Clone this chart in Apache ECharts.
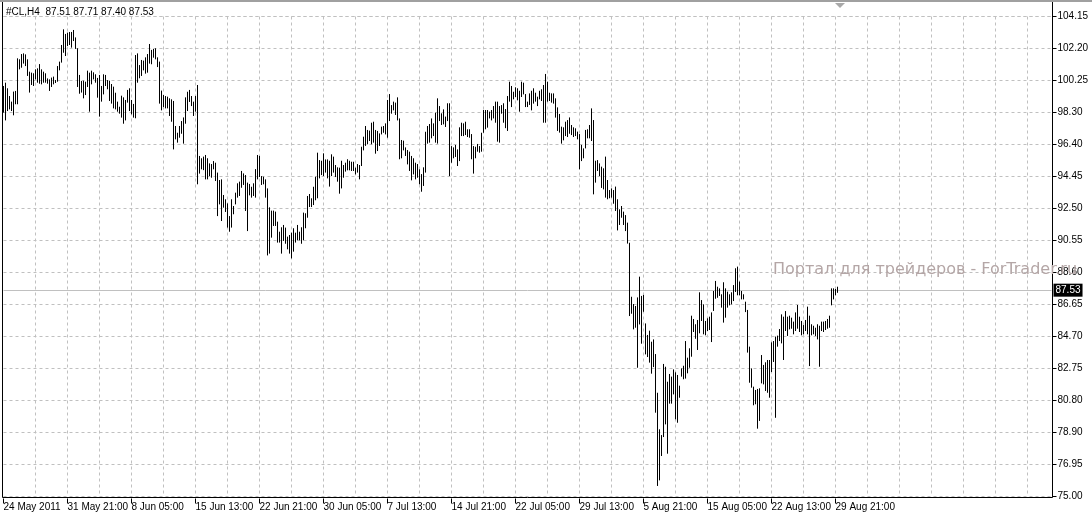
<!DOCTYPE html>
<html>
<head>
<meta charset="utf-8">
<script src="https://cdn.jsdelivr.net/npm/echarts/dist/echarts.min.js"></script>
<style>
html,body{margin:0;padding:0;background:#fff;}
#chart{width:1092px;height:518px;}
</style>
</head>
<body>
<div id="chart"></div>
<script>
// ---- data ----
const symbolTitle = '#CL,H4';
const lastBarOHLC = [87.51, 87.71, 87.40, 87.53];
const xTickLabels = ['24 May 2011','31 May 21:00','8 Jun 05:00','15 Jun 13:00','22 Jun 21:00','30 Jun 05:00','7 Jul 13:00','14 Jul 21:00','22 Jul 05:00','29 Jul 13:00','5 Aug 21:00','15 Aug 05:00','22 Aug 13:00','29 Aug 21:00'];
const yTickLabels = ['75.00','76.95','78.90','80.80','82.75','84.70','86.65','88.60','90.55','92.50','94.45','96.40','98.30','100.25','102.20','104.15'];
const watermark = 'Портал для трейдеров - ForTrader.ru';

const highs = [
99.90,100.10,99.76,99.29,98.95,99.56,99.60,101.58,101.52,101.84,
101.88,101.82,101.52,100.77,100.71,100.67,100.91,100.97,101.23,100.91,
100.77,100.67,100.36,100.30,100.41,100.47,100.26,101.11,101.38,102.39,
103.34,103.06,103.14,103.18,103.18,103.30,102.85,102.19,100.57,100.20,
100.22,100.16,100.83,100.71,100.83,100.73,100.61,100.39,100.57,99.90,
100.61,100.57,100.26,100.22,100.02,99.86,99.49,98.95,98.64,99.31,
99.21,99.05,99.66,99.76,99.05,98.81,101.78,101.88,101.17,101.48,
101.44,101.64,101.84,102.45,102.09,102.15,102.19,101.64,101.38,99.62,
99.35,99.29,99.25,99.15,
99.09,98.99,97.47,97.06,97.47,97.77,97.99,99.21,99.55,99.66,
99.29,98.95,99.29,99.96,95.65,95.51,95.61,95.71,95.51,95.20,
95.16,95.34,95.24,94.64,94.19,94.23,93.28,93.02,92.77,92.00,
93.02,92.61,93.42,93.99,94.09,94.74,94.59,94.49,94.03,93.95,
93.78,93.99,94.85,95.71,95.65,94.43,94.39,94.23,93.68,92.53,
92.33,92.33,92.27,91.66,91.05,91.32,91.46,91.30,90.75,90.85,
90.99,91.26,90.99,91.46,91.05,91.32,92.21,92.17,93.22,93.34,
93.08,93.78,94.39,95.85,95.40,95.36,95.81,95.44,95.44,95.36,
95.75,95.61,95.10,94.96,
94.94,95.36,95.10,95.24,95.45,95.36,95.30,95.30,94.94,95.16,
95.10,96.21,96.82,97.47,97.23,97.19,97.67,97.73,97.23,97.17,
97.02,97.43,97.47,97.63,99.05,99.41,98.74,98.95,98.89,99.21,
97.93,96.62,96.58,96.17,96.01,95.91,95.65,95.51,95.24,95.16,
94.84,94.55,94.96,97.12,97.47,97.59,97.93,97.63,98.28,99.15,
98.68,98.24,98.48,98.04,98.85,98.85,96.25,96.17,96.32,96.05,
97.39,97.67,97.63,97.73,97.27,97.27,96.98,96.25,96.21,96.38,
96.25,97.06,98.44,98.44,98.44,98.34,98.44,98.68,98.95,98.95,
98.68,98.74,98.85,98.50,
99.29,100.16,99.90,99.55,99.82,99.76,99.61,100.16,100.10,99.41,
98.95,99.45,99.61,99.76,99.49,99.25,99.61,99.70,99.96,100.63,
100.16,99.49,99.45,99.45,99.15,98.60,98.20,97.43,97.39,97.73,
97.83,97.99,97.53,97.39,97.33,97.13,96.98,96.32,96.11,97.23,
97.27,97.53,98.54,97.83,95.36,95.40,95.20,95.00,94.90,95.61,
94.19,93.58,93.68,93.58,93.79,93.02,92.41,92.61,92.27,92.06,
91.60,90.38,87.10,86.66,86.54,87.06,88.32,87.15,87.21,85.48,
84.78,85.04,84.37,84.51,83.62,81.27,79.05,78.70,83.02,82.85,
81.94,82.41,82.25,82.69,
82.51,82.35,81.70,82.75,82.91,84.41,83.40,83.97,85.95,85.75,
85.43,85.69,87.37,86.90,86.64,85.63,85.79,85.89,86.15,87.45,
88.06,87.71,87.61,87.25,87.98,87.61,87.41,87.25,87.37,87.81,
88.83,88.93,88.02,87.45,87.25,86.80,86.30,84.07,82.75,81.64,
81.44,81.50,81.54,83.56,82.96,83.12,83.26,83.26,84.33,84.41,
84.68,84.74,85.14,86.03,85.89,86.23,85.89,85.95,85.83,85.59,
86.15,86.60,85.89,85.63,85.38,85.69,86.50,85.95,85.43,85.34,
85.22,85.43,85.34,85.59,85.59,85.63,85.75,85.95,87.61,87.61,
87.57,87.71
];

const lows = [
98.34,97.87,98.44,98.54,98.44,98.18,98.85,98.85,100.97,101.07,
101.32,101.17,100.57,99.56,100.02,99.96,100.36,100.16,100.10,100.06,
100.16,100.16,100.10,99.66,99.90,100.06,100.14,100.22,100.91,101.38,
101.98,101.78,102.39,102.45,102.29,102.69,102.21,99.90,99.49,99.56,
99.21,99.41,99.90,98.40,100.06,100.36,100.16,99.25,98.10,99.01,
99.45,99.96,99.76,99.05,98.89,98.60,98.54,98.40,98.28,98.04,
97.67,97.87,98.95,98.44,98.24,98.04,98.00,100.16,100.43,100.57,
100.91,100.71,100.77,101.32,101.28,101.68,101.58,101.11,98.89,98.48,
98.68,98.60,98.60,98.14,
97.79,96.11,96.72,96.52,96.82,97.06,96.46,97.67,98.44,98.99,
98.74,98.14,98.40,93.99,94.64,94.90,94.85,94.29,94.29,94.49,
94.39,94.90,94.19,92.06,92.77,91.76,92.57,92.31,91.36,91.11,
91.36,92.17,92.77,93.18,93.28,93.78,93.95,92.37,91.15,93.32,
93.18,93.28,93.18,94.29,94.43,93.95,93.99,93.18,89.67,89.78,
90.75,91.46,91.46,90.45,90.45,89.78,90.55,90.38,90.04,89.78,
89.49,89.90,90.45,90.59,90.59,90.38,90.59,91.32,91.96,92.61,
92.61,92.73,93.02,93.14,94.35,94.55,94.49,94.70,94.35,93.85,
94.49,94.70,94.43,94.15,
93.42,93.74,94.39,94.76,94.84,94.84,94.80,94.80,94.59,94.70,
94.29,95.10,96.05,96.32,96.42,96.62,96.42,96.52,95.85,96.01,
96.32,97.02,97.12,97.02,96.82,97.83,98.28,98.48,98.20,97.87,
95.51,95.57,96.05,95.71,95.20,94.80,94.23,94.59,94.29,94.39,
93.99,93.54,93.89,94.70,96.46,96.52,96.78,96.92,96.52,96.46,
97.83,97.59,97.63,97.47,97.83,94.49,95.30,95.57,95.65,95.10,
95.40,96.92,96.92,96.98,96.86,96.82,95.51,94.64,95.57,95.97,
95.91,95.97,97.12,97.33,97.43,97.99,97.87,97.99,97.73,96.58,
96.52,98.28,97.73,97.40,
97.23,99.01,98.68,99.15,99.29,99.09,98.40,99.29,99.45,98.68,
98.68,98.81,98.48,98.89,99.01,98.74,99.15,99.05,97.73,97.73,
99.01,99.05,98.95,98.89,98.04,97.23,97.13,96.46,96.66,96.92,
96.86,97.06,96.98,96.86,96.92,96.72,94.90,95.40,95.57,96.17,
96.78,96.78,96.62,93.38,94.09,94.80,94.49,93.77,93.68,93.18,
93.08,93.14,93.18,92.81,92.37,91.19,91.52,91.96,91.52,91.15,
90.39,85.99,86.13,85.18,85.28,82.85,85.48,84.31,86.25,83.66,
83.50,83.16,82.49,82.89,80.12,75.67,76.01,77.49,78.64,79.41,
77.63,80.67,80.67,81.23,
79.72,79.51,81.03,82.31,82.15,82.19,82.51,82.85,83.52,85.02,
84.61,83.93,84.94,85.69,84.88,84.82,85.08,85.14,84.41,86.30,
87.04,87.10,87.21,86.50,85.59,85.89,86.50,86.64,86.70,86.90,
87.45,87.25,87.25,87.00,87.00,86.23,83.77,81.94,81.64,80.57,
80.63,79.15,79.62,81.90,81.84,81.44,81.33,81.03,82.59,83.20,
79.81,84.13,84.47,84.33,83.32,85.08,84.78,85.18,85.22,84.88,
85.08,85.22,85.02,84.82,84.88,85.08,84.88,82.95,84.82,84.88,
84.78,84.57,82.91,85.08,85.02,85.14,85.22,85.28,86.64,87.00,
87.25,87.40
];

// ---- axis settings ----
const barsPerLabel = 32;
const barsPerGrid = 16;
const totalSlots = 525;          // bar slots across the chart window (incl. empty right part)
const yMin = 75.00, yMax = 104.15;
const yStep = (yMax - yMin) / (yTickLabels.length - 1);

const categories = Array.from({length: totalSlots}, (_, i) => String(i));
const bars = highs.map((h, i) => [i, lows[i], h]);
const lastIdx = highs.length - 1;

const chart = echarts.init(document.getElementById('chart'), null, {renderer: 'canvas'});
const gridCol = '#c0c0c0';
const font = 'Liberation Sans';

chart.setOption({
  animation: false,
  backgroundColor: '#ffffff',
  grid: {left: 3.5, right: 40.5, top: 16.5, bottom: 21.5, containLabel: false},
  xAxis: {
    type: 'category',
    data: categories,
    boundaryGap: false,
    offset: 2,
    axisLine: {show: false},
    axisTick: {
      show: true, length: 5, lineStyle: {color: '#000'},
      interval: (i) => i % barsPerLabel === 0 && i <= lastIdx
    },
    axisLabel: {
      show: true, align: 'left', margin: 4, color: '#000', fontSize: 10, fontFamily: font,
      interval: (i) => i % barsPerLabel === 0 && i <= lastIdx,
      formatter: (v, i) => xTickLabels[i / barsPerLabel] || ''
    },
    splitLine: {
      show: true,
      interval: (i) => i > 0 && i % barsPerGrid === 0,
      lineStyle: {color: gridCol, type: [3, 3], width: 1}
    }
  },
  yAxis: {
    type: 'value',
    position: 'right',
    min: yMin, max: yMax, interval: yStep,
    offset: 1,
    axisLine: {show: false},
    axisTick: {show: true, length: 4, lineStyle: {color: '#000'}},
    axisLabel: {
      show: true, margin: 5, color: '#000', fontSize: 10, fontFamily: font,
      formatter: (v) => { const k = Math.round((v - yMin) / yStep); return yTickLabels[k] || ''; }
    },
    splitLine: {show: true, lineStyle: {color: gridCol, type: [3, 3], width: 1}}
  },
  series: [
    {
      type: 'custom',
      data: bars,
      encode: {x: 0, y: [1, 2]},
      clip: false,
      silent: true,
      renderItem: (params, api) => {
        const p1 = api.coord([api.value(0), api.value(1)]);
        const p2 = api.coord([api.value(0), api.value(2)]);
        return {
          type: 'line',
          shape: {x1: p1[0], y1: p1[1] + 0.5, x2: p2[0], y2: p2[1] - 0.5},
          style: {stroke: '#000', lineWidth: 1}
        };
      },
      z: 5
    },
    {
      type: 'line',
      data: [[String(lastIdx), lastBarOHLC[3]]],
      showSymbol: false,
      silent: true,
      z: 3,
      markLine: {
        silent: true,
        symbol: ['none', 'none'],
        lineStyle: {color: '#c0c0c0', type: 'solid', width: 1},
        label: {
          show: true, position: 'end', distance: 2,
          formatter: lastBarOHLC[3].toFixed(2),
          color: '#fff', backgroundColor: '#000', padding: [2, 2, 1, 2],
          fontSize: 10, fontFamily: font
        },
        data: [{yAxis: lastBarOHLC[3]}]
      }
    }
  ],
  graphic: [
    // window top edge
    {type: 'rect', shape: {x: 0, y: 0, width: 1092, height: 2}, style: {fill: '#a0a0a0'}, z: 50, silent: true},
    // chart frame (left, bottom, right)
    {type: 'polyline', shape: {points: [[2.5, 2], [2.5, 497.5], [1052.5, 497.5], [1052.5, 2]]}, style: {fill: 'none', stroke: '#000', lineWidth: 1}, z: 50, silent: true},
    // header text
    {type: 'text', left: 6, top: 7, style: {text: symbolTitle + '  ' + lastBarOHLC.map(v => v.toFixed(2)).join(' '), fill: '#000', fontSize: 10, fontFamily: font}, z: 60, silent: true},
    // watermark
    {type: 'text', left: 773, top: 262, style: {text: watermark, fill: '#b4a6a6', fontSize: 16, fontFamily: 'DejaVu Sans'}, z: 70, silent: true},
    // chart shift marker
    {type: 'polygon', shape: {points: [[835, 3], [845, 3], [840, 8]]}, style: {fill: '#a8a8a8'}, z: 60, silent: true}
  ]
});
</script>
</body>
</html>
